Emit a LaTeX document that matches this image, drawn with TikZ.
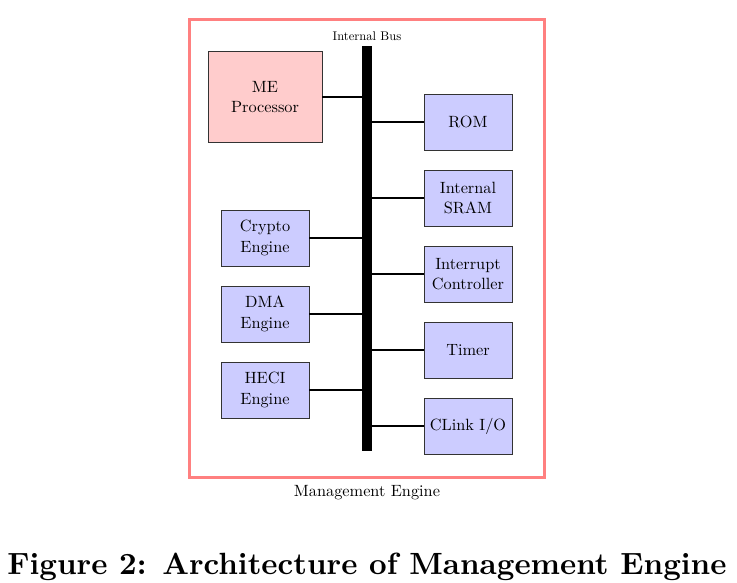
\documentclass[tikz,border=0pt]{standalone}
\usepackage{fontspec}
\setmainfont{lmroman10-regular.otf}[BoldFont=lmroman10-bold.otf]
\usepackage{graphicx}
\begin{document}
\begin{tikzpicture}[x=1pt,y=-1pt,
  blk/.style={draw=black!80, line width=0.8pt, fill=blue!20, minimum width=88pt, minimum height=56pt,
    align=center, inner sep=1pt, font=\fontsize{16.3}{20.5}\selectfont},
  conn/.style={line width=1.4pt}]
\useasboundingbox (0,0) rectangle (737,582);
% outer frame
\node[draw=red!50, line width=3pt, minimum width=355pt, minimum height=458pt, inner sep=0pt] (me) at (366.5,248) {};
\node[anchor=base, font=\fontsize{16.3}{20.5}\selectfont] (melabel) at (367,496) {Management Engine};
% bus
\node[fill=black, minimum width=10pt, minimum height=405pt, inner sep=0pt] (bus) at (367,248.5) {};
\node[anchor=base, font=\fontsize{12.6}{15}\selectfont] (buslabel) at (367,40.5) {Internal Bus};
% blocks
\node[blk, fill=red!20, minimum width=114pt, minimum height=91pt] (cpu) at (265,97) {ME\\Processor};
\node[blk] (rom) at (468,122) {ROM};
\node[blk] (sram) at (468,198) {Internal\\SRAM};
\node[blk] (irq) at (468,274) {Interrupt\\Controller};
\node[blk] (timer) at (468,350) {Timer};
\node[blk] (clink) at (468,426) {CLink I/O};
\node[blk] (crypto) at (265,238) {Crypto\\Engine};
\node[blk] (dma) at (265,314) {DMA\\Engine};
\node[blk] (heci) at (265,390) {HECI\\Engine};
% connectors
\draw[conn] (cpu.east) -- (cpu.east -| bus.west);
\foreach \n in {rom,sram,irq,timer,clink} \draw[conn] (\n.west) -- (\n.west -| bus.east);
\foreach \n in {crypto,dma,heci} \draw[conn] (\n.east) -- (\n.east -| bus.west);
% caption
\node[anchor=base, inner sep=0pt] (caption) at (367,574) {\resizebox{719pt}{!}{\bfseries Figure 2: Architecture of Management Engine}};
\end{tikzpicture}
\end{document}
